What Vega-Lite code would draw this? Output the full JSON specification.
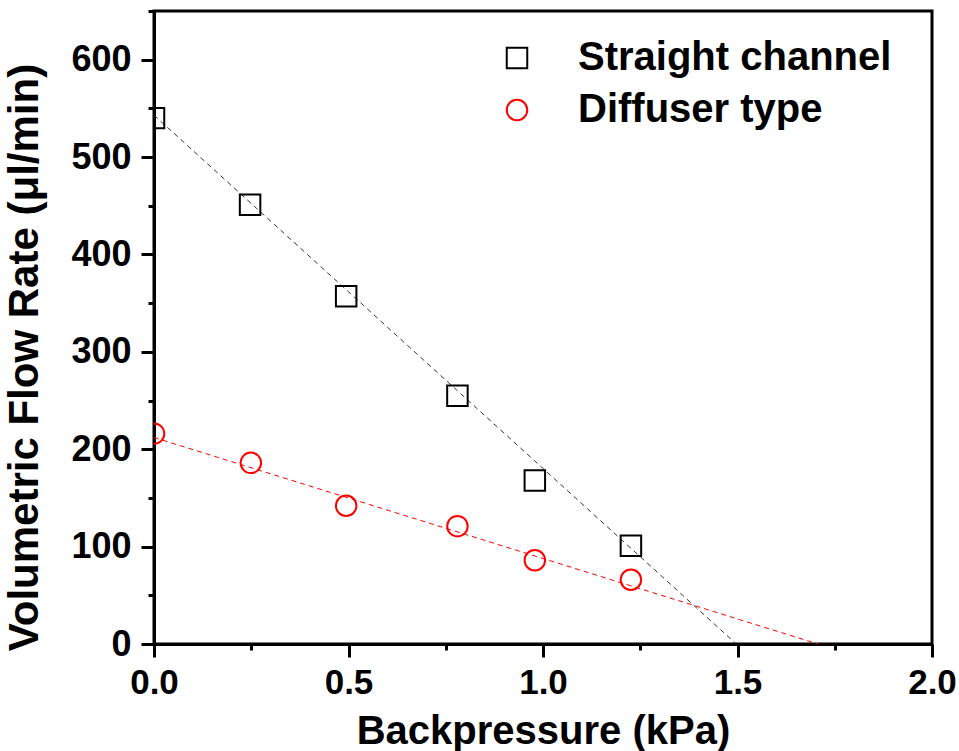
{
  "$schema": "https://vega.github.io/schema/vega-lite/v6.json",
  "width": 778,
  "height": 633,
  "autosize": {"type": "none"},
  "padding": {"left": 154, "top": 11, "right": 27, "bottom": 107},
  "background": "white",
  "config": {
    "view": {"stroke": "black", "strokeWidth": 3},
    "font": "Liberation Sans"
  },
  "datasets": {
    "measured": [
      {"series": "Straight channel", "backpressure": 0.0, "flow": 540},
      {"series": "Straight channel", "backpressure": 0.247, "flow": 451},
      {"series": "Straight channel", "backpressure": 0.494, "flow": 357},
      {"series": "Straight channel", "backpressure": 0.78, "flow": 255},
      {"series": "Straight channel", "backpressure": 0.979, "flow": 168},
      {"series": "Straight channel", "backpressure": 1.226, "flow": 101},
      {"series": "Diffuser type", "backpressure": 0.0, "flow": 216},
      {"series": "Diffuser type", "backpressure": 0.249, "flow": 186},
      {"series": "Diffuser type", "backpressure": 0.494, "flow": 142},
      {"series": "Diffuser type", "backpressure": 0.78, "flow": 121},
      {"series": "Diffuser type", "backpressure": 0.979, "flow": 86},
      {"series": "Diffuser type", "backpressure": 1.226, "flow": 66}
    ],
    "fits": [
      {"series": "Straight channel", "backpressure": 0.0, "flow": 543},
      {"series": "Straight channel", "backpressure": 1.497, "flow": 0},
      {"series": "Diffuser type", "backpressure": 0.0, "flow": 212},
      {"series": "Diffuser type", "backpressure": 1.707, "flow": 0}
    ]
  },
  "encoding": {
    "x": {
      "field": "backpressure",
      "type": "quantitative",
      "scale": {"domain": [0, 2], "nice": false, "zero": false},
      "axis": {
        "title": "Backpressure (kPa)",
        "titleFont": "Liberation Sans",
        "titleFontSize": 40,
        "titleFontWeight": "bold",
        "titleColor": "black",
        "titleY": 99,
        "titleBaseline": "alphabetic",
        "values": [0, 0.25, 0.5, 0.75, 1, 1.25, 1.5, 1.75, 2],
        "labelExpr": "(datum.value * 4) % 2 === 0 ? format(datum.value, '.1f') : ''",
        "labelFont": "Liberation Sans",
        "labelFontSize": 35,
        "labelFontWeight": "bold",
        "labelColor": "black",
        "labelPadding": 8,
        "labelFlush": false,
        "labelOverlap": false,
        "grid": false,
        "domainColor": "black",
        "domainWidth": 3,
        "tickColor": "black",
        "tickWidth": 3,
        "tickSize": {"condition": {"test": "(datum.value * 4) % 2 !== 0", "value": 6}, "value": 13}
      }
    },
    "y": {
      "field": "flow",
      "type": "quantitative",
      "scale": {"domain": [0, 650], "nice": false, "zero": false},
      "axis": {
        "title": "Volumetric Flow Rate (μl/min)",
        "titleFont": "Liberation Sans",
        "titleFontSize": 42,
        "titleFontWeight": "bold",
        "titleColor": "black",
        "titleX": -117,
        "titleY": 346,
        "titleAngle": -90,
        "titleAlign": "center",
        "titleBaseline": "alphabetic",
        "values": [0, 50, 100, 150, 200, 250, 300, 350, 400, 450, 500, 550, 600, 650],
        "labelExpr": "datum.value % 100 === 0 ? format(datum.value, 'd') : ''",
        "labelFont": "Liberation Sans",
        "labelFontSize": 36,
        "labelFontWeight": "bold",
        "labelColor": "black",
        "labelPadding": 10,
        "labelFlush": false,
        "labelOverlap": false,
        "grid": false,
        "domainColor": "black",
        "domainWidth": 3,
        "tickColor": "black",
        "tickWidth": 3,
        "tickSize": {"condition": {"test": "datum.value % 100 !== 0", "value": 6}, "value": 13}
      }
    }
  },
  "layer": [
    {
      "data": {"name": "fits"},
      "transform": [{"filter": "datum.series === 'Straight channel'"}],
      "mark": {"type": "line", "stroke": "#333333", "strokeWidth": 1, "strokeDash": [5, 4], "clip": true}
    },
    {
      "data": {"name": "fits"},
      "transform": [{"filter": "datum.series === 'Diffuser type'"}],
      "mark": {"type": "line", "stroke": "#ff0000", "strokeWidth": 1, "strokeDash": [5, 4], "clip": true}
    },
    {
      "data": {"name": "measured"},
      "mark": {"type": "point", "filled": false, "strokeWidth": 2, "size": 420, "opacity": 1, "clip": true},
      "encoding": {
        "shape": {
          "field": "series",
          "type": "nominal",
          "scale": {"domain": ["Straight channel", "Diffuser type"], "range": ["square", "circle"]},
          "legend": {
            "orient": "none",
            "legendX": 343,
            "legendY": 27,
            "title": null,
            "labelFont": "Liberation Sans",
            "labelFontSize": 40,
            "labelFontWeight": "bold",
            "labelColor": "black",
            "labelOffset": 41,
            "labelLimit": 0,
            "rowPadding": 12,
            "symbolSize": 420,
            "symbolStrokeWidth": 2
          }
        },
        "color": {
          "field": "series",
          "type": "nominal",
          "scale": {"domain": ["Straight channel", "Diffuser type"], "range": ["black", "#ff0000"]}
        }
      }
    }
  ]
}
